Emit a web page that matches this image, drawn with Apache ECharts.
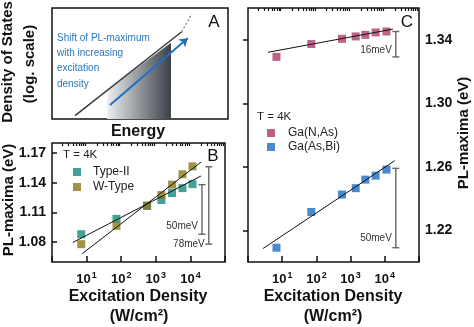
<!DOCTYPE html>
<html><head><meta charset="utf-8">
<script src="https://cdn.jsdelivr.net/npm/echarts@6/dist/echarts.min.js"></script>
<style>html,body{margin:0;padding:0;background:#fff}#chart{width:474px;height:327px}</style>
</head><body><div id="chart"></div>
<script>
// Panel B: PL maxima vs excitation density (W/cm²) at T = 4K
const densityB = [7, 73, 560, 1450, 2950, 5900, 11500];
const typeII = [1.088, 1.1035, 1.1165, 1.1225, 1.1295, 1.1345, 1.1385];
const wType = [1.078, 1.0965, 1.117, 1.1275, 1.138, 1.1485, 1.1565];
const fitTypeII = [[4, 1.0797], [20200, 1.1467]];
const fitWType = [[7.4, 1.0683], [20200, 1.1607]];
const spanB = [[21600, 1.088, 1.138], [34000, 1.078, 1.156]];
const ticksB = [1.08, 1.11, 1.14, 1.17];

// Panel C: Ga(N,As) and Ga(As,Bi)
const densityC = [6.8, 71, 560, 1410, 2700, 5400, 11200];
const gaNAs = [1.3292, 1.3373, 1.3406, 1.3421, 1.3431, 1.3446, 1.3452];
const gaAsBi = [1.209, 1.2315, 1.2425, 1.2465, 1.2519, 1.2544, 1.2582];
const fitNAs = [[3.85, 1.3321], [17400, 1.3467]];
const fitAsBi = [[2.75, 1.2085], [19500, 1.2638]];
const spanC = [[21000, 1.3292, 1.3452], [21000, 1.209, 1.259]];
const ticksC = [1.22, 1.26, 1.30, 1.34];

// Panel A: schematic density of states (arbitrary 0-100 units)
const dosEdge = [[13.1, 3.0], [73.7, 78.6]];
const dosEdgeExt = [[73.7, 78.6], [79.4, 94.6]];
const occupied = [[31.4, 0], [31.4, 26.1], [67.6, 68.7], [67.6, 0]];
const shiftArrow = [[33.0, 12.6], [77.1, 72.7]];
const shiftText = ['Shift of PL-maximum', 'with increasing', 'excitation', 'density'];

// minor ticks at 2..9 x 10^d, expressed as decade exponents
const minorTickExps = [];
for (let d = 0; d < 5; d++) for (let m = 2; m <= 9; m++) minorTickExps.push(d + Math.log10(m));

const FONT = "'Liberation Sans', Arial, sans-serif";
const INK = '#111';
const colors = { typeII: '#16887a', wType: '#8a781a', nas: '#ad3a6a', asbi: '#1d6cc0' };

function logAxes(gridIndex) {
  return [{
    type: 'log', gridIndex, min: 1, max: 1e5, logBase: 10,
    axisLine: { show: false }, splitLine: { show: false },
    axisTick: { inside: true, length: 6, lineStyle: { color: INK, width: 1.5 } },
    axisLabel: {
      margin: 9, color: INK,
      formatter: v => (v <= 1.001 || v >= 99999) ? '' : '{b|10}{s|' + Math.round(Math.log10(v)) + '}',
      rich: {
        b: { fontSize: 13, fontWeight: 'bold', fontFamily: FONT, color: INK },
        s: { fontSize: 9, fontWeight: 'bold', fontFamily: FONT, color: INK, padding: [0, 0, 8, 1] }
      }
    }
  }, {
    // companion axis spanning the same five decades, carrying only the minor ticks
    type: 'value', gridIndex, min: 0, max: 5,
    axisLine: { show: false }, splitLine: { show: false }, axisLabel: { show: false },
    axisTick: { inside: true, length: 3, customValues: minorTickExps, lineStyle: { color: INK, width: 1.2 } }
  }];
}

function valueAxis(gridIndex, min, max, ticks, position) {
  return {
    type: 'value', gridIndex, min, max, position,
    axisLine: { show: false }, splitLine: { show: false },
    axisTick: { inside: true, length: 5, customValues: ticks, lineStyle: { color: INK, width: 1.5 } },
    axisLabel: { customValues: ticks, formatter: v => v.toFixed(2), fontSize: 14, fontWeight: 'bold', color: INK, margin: 6, fontFamily: FONT }
  };
}

function scatter(name, xs, ys, color, xi, yi) {
  return { type: 'scatter', name, xAxisIndex: xi, yAxisIndex: yi, symbol: 'rect', symbolSize: 8,
    itemStyle: { color }, z: 2, data: xs.map((x, i) => [x, ys[i]]) };
}

function fit(points, xi, yi) {
  return { type: 'line', xAxisIndex: xi, yAxisIndex: yi, data: points, symbol: 'none', z: 3,
    lineStyle: { color: INK, width: 1 }, silent: true };
}

// vertical span marker with end caps, labelled with its height in meV
function spans(data, xi, yi, labelLift) {
  return {
    type: 'custom', xAxisIndex: xi, yAxisIndex: yi, data, z: 4, silent: true,
    renderItem(params, api) {
      const x = api.value(0), lo = api.value(1), hi = api.value(2);
      const top = api.coord([x, hi]), bot = api.coord([x, lo]);
      const cap = 3.5;
      const stroke = { stroke: '#666', lineWidth: 1.4 };
      const txt = Math.round((hi - lo) * 1000) + 'meV';
      return { type: 'group', children: [
        { type: 'line', shape: { x1: top[0], y1: top[1], x2: bot[0], y2: bot[1] }, style: stroke },
        { type: 'line', shape: { x1: top[0] - cap, y1: top[1], x2: top[0] + cap, y2: top[1] }, style: stroke },
        { type: 'line', shape: { x1: bot[0] - cap, y1: bot[1], x2: bot[0] + cap, y2: bot[1] }, style: stroke },
        { type: 'text', x: bot[0] - 4, y: bot[1] - labelLift[params.dataIndex],
          style: { text: txt, align: 'right', verticalAlign: 'middle', fontSize: 10, fill: '#333', fontFamily: FONT } }
      ] };
    }
  };
}

function label(text, x, y, opts, rotated) {
  const el = { type: 'text', x, y, style: Object.assign({ text, fontFamily: FONT, fill: INK,
    align: 'center', verticalAlign: 'middle' }, opts || {}) };
  if (rotated) el.rotation = Math.PI / 2;
  return el;
}

const title16 = { fontSize: 16, fontWeight: 'bold' };
const title15 = { fontSize: 15, fontWeight: 'bold' };

const chart = echarts.init(document.getElementById('chart'), null, { renderer: 'canvas' });
chart.setOption({
  animation: false,
  textStyle: { fontFamily: FONT },
  grid: [
    { left: 52, top: 8, width: 176, height: 111, show: true, borderColor: INK, borderWidth: 1.5 },
    { left: 52, top: 143, width: 173, height: 119, show: true, borderColor: INK, borderWidth: 1.5 },
    { left: 248, top: 8, width: 171, height: 254, show: true, borderColor: INK, borderWidth: 1.5 }
  ],
  xAxis: [
    { type: 'value', gridIndex: 0, min: 0, max: 100, show: false },
    ...logAxes(1),
    ...logAxes(2)
  ],
  yAxis: [
    { type: 'value', gridIndex: 0, min: 0, max: 100, show: false },
    valueAxis(1, 1.06, 1.18, ticksB, 'left'),
    valueAxis(2, 1.20, 1.36, ticksC, 'right')
  ],
  legend: [
    { data: ['Type-II', 'W-Type'], left: 73, top: 166, orient: 'vertical', icon: 'rect', itemWidth: 8, itemHeight: 8,
      itemGap: 3, padding: 0, selectedMode: false, textStyle: { fontSize: 12, color: '#222', padding: [0, 0, 0, 7] } },
    { data: ['Ga(N,As)', 'Ga(As,Bi)'], left: 267, top: 127, orient: 'vertical', icon: 'rect', itemWidth: 8, itemHeight: 8,
      itemGap: 2, padding: 0, selectedMode: false, textStyle: { fontSize: 12, color: '#222', padding: [0, 0, 0, 8] } }
  ],
  series: [
    // panel A schematic
    { type: 'custom', xAxisIndex: 0, yAxisIndex: 0, data: [[0, 0]], silent: true, z: 1,
      renderItem(params, api) {
        return { type: 'polygon', shape: { points: occupied.map(p => api.coord(p)) },
          style: { fill: new echarts.graphic.LinearGradient(0, 0, 1, 0, [
            { offset: 0, color: '#eceef0' }, { offset: 1, color: '#3a4148' }]) } };
      } },
    { type: 'line', xAxisIndex: 0, yAxisIndex: 0, data: dosEdge, symbol: 'none', silent: true,
      lineStyle: { color: '#3a3a3a', width: 1.5 } },
    { type: 'line', xAxisIndex: 0, yAxisIndex: 0, data: dosEdgeExt, symbol: 'none', silent: true,
      lineStyle: { color: '#777', width: 1.2, type: [2, 2] } },
    { type: 'lines', coordinateSystem: 'cartesian2d', xAxisIndex: 0, yAxisIndex: 0, silent: true, z: 3,
      data: [{ coords: shiftArrow }], symbol: ['none', 'arrow'], symbolSize: 8,
      lineStyle: { color: '#1f6fc0', width: 2, opacity: 1 } },
    // panel B
    scatter('Type-II', densityB, typeII, colors.typeII, 1, 1),
    scatter('W-Type', densityB, wType, colors.wType, 1, 1),
    fit(fitTypeII, 1, 1),
    fit(fitWType, 1, 1),
    spans(spanB, 1, 1, [8, 0]),
    // panel C
    scatter('Ga(N,As)', densityC, gaNAs, colors.nas, 3, 2),
    scatter('Ga(As,Bi)', densityC, gaAsBi, colors.asbi, 3, 2),
    fit(fitNAs, 3, 2),
    fit(fitAsBi, 3, 2),
    spans(spanC, 3, 2, [7, 9])
  ],
  graphic: [
    label('Density of States', 8, 62, title15, true),
    label('(log. scale)', 30, 64, title15, true),
    label('Energy', 138, 132, title16),
    label('PL-maxima (eV)', 9, 200, title15, true),
    label('Excitation Density', 138, 297, title16),
    label('(W/cm²)', 139, 317, title16),
    label('Excitation Density', 333, 297, title16),
    label('(W/cm²)', 333, 317, title16),
    label('PL-maxima (eV)', 464, 133, title15, true),
    label('A', 214, 22, { fontSize: 17 }),
    label('B', 213, 156, { fontSize: 17 }),
    label('C', 407, 22, { fontSize: 17 }),
    label('T = 4K', 63, 155, { fontSize: 11.5, align: 'left', fill: '#222' }),
    label('T = 4K', 257, 117, { fontSize: 11.5, align: 'left', fill: '#222' }),
    ...shiftText.map((t, i) => label(t, 57, 38 + i * 15.3, { fontSize: 10, align: 'left', fill: '#2a78c0' }))
  ]
});
</script></body></html>
